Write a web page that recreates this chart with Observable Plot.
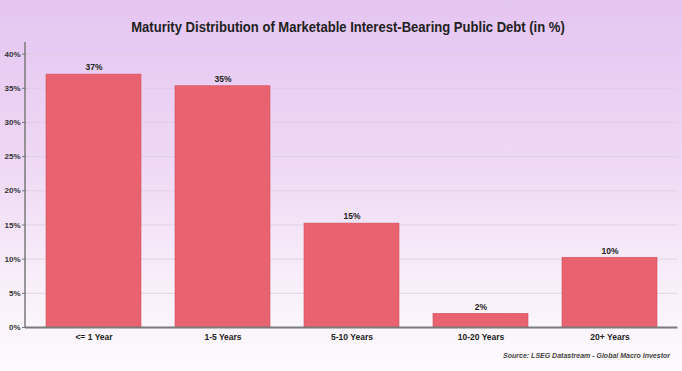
<!DOCTYPE html>
<html><head><meta charset="utf-8">
<script src="https://cdn.jsdelivr.net/npm/d3@7"></script>
<script src="https://cdn.jsdelivr.net/npm/@observablehq/plot@0.6"></script>
<style>
body{margin:0;}
#wrap{position:relative;width:682px;height:371px;overflow:hidden;
 background:linear-gradient(180deg,#e5c5f1 0%,#efd9f5 45%,#f9f1fa 80%,#fdfafd 100%);
 font-family:"Liberation Sans",Arial,sans-serif;}
#title{position:absolute;left:7px;top:19px;width:682px;text-align:center;font-weight:bold;font-size:14.5px;color:#222;transform:scaleX(0.9);transform-origin:50% 0;}
#plot{position:absolute;left:0;top:40px;}
#cap{position:absolute;right:12px;top:352px;font-style:italic;font-weight:bold;font-size:7px;color:#444;}
</style></head><body>
<div id="wrap"><div id="title">Maturity Distribution of Marketable Interest-Bearing Public Debt (in %)</div><div id="plot"></div><div id="cap">Source: LSEG Datastream - Global Macro Investor</div></div>
<script>
const categories = ["<= 1 Year","1-5 Years","5-10 Years","10-20 Years","20+ Years"];
const values = [37.0, 35.3, 15.2, 2.0, 10.2];
const labels = ["37%","35%","15%","2%","10%"];
const yTicks = [0,5,10,15,20,25,30,35,40];

const data = categories.map((c,i)=>({cat:c, v:values[i], lab:labels[i]}));
const font = '"Liberation Sans",Arial,sans-serif';
const chart = Plot.plot({
  width: 682, height: 310,
  marginLeft: 26, marginRight: 4.5, marginTop: 2, marginBottom: 23,
  style: {background: "transparent", fontFamily: font},
  x: {domain: categories, paddingInner: 0.263, paddingOuter: 0.147, axis: null, label: null},
  y: {domain: [0, 41.7], axis: null, label: null},
  marks: [
    Plot.ruleY(yTicks.filter(d=>d>0), {stroke: "#dccde0", strokeWidth: 0.8}),
    Plot.barY(data, {x: "cat", y: "v", fill: "#e8626f", stroke: "#d4505d", strokeWidth: 0.6}),
    Plot.text(data, {x: "cat", y: "v", text: "lab", dy: -7, fontSize: 8.5, fontWeight: "bold", fill: "#222"}),
    Plot.ruleY([0], {stroke: "#7a7a7a", strokeWidth: 2, insetLeft: -1}),
    Plot.axisY({ticks: yTicks, tickFormat: d=>d+"%", tickSize: 4, tickPadding: 2, fontSize: 8, fontWeight: "bold", stroke: "#777", color: "#333", label: null}),
    Plot.axisX({tickSize: 0, tickPadding: 6, fontSize: 8.5, fontWeight: "bold", color: "#222", label: null})
  ]
});
const svg = d3.select(chart);
svg.append("line").attr("x1",25).attr("x2",25).attr("y1",2).attr("y2",287).attr("stroke","#7a7a7a").attr("stroke-width",1.5);
document.getElementById("plot").appendChild(chart);
</script></body></html>
